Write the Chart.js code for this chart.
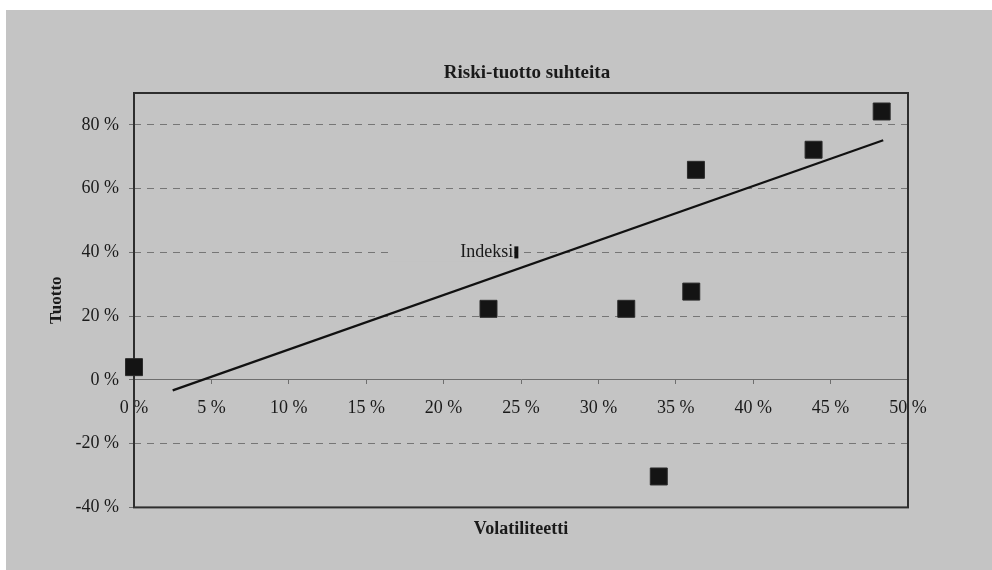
<!DOCTYPE html>
<html>
<head>
<meta charset="utf-8">
<script src="https://cdn.jsdelivr.net/npm/chart.js@4.4.1/dist/chart.umd.min.js"></script>
<style>
  html, body { margin: 0; padding: 0; background: #ffffff; }
  #wrap { position: absolute; left: 6px; top: 10px; width: 986px; height: 560px; background: #c4c4c4; }
  canvas { display: block; }
</style>
</head>
<body>
<div id="wrap"><canvas id="chart" width="986" height="560"></canvas></div>
<script>
// Volatility (%) and return (%) of each investment
const volatility = [0, 22.9, 31.8, 33.9, 36.0, 36.3, 43.9, 48.3];
const returns    = [4, 22.3, 22.3, -30.3, 27.7, 65.9, 72.2, 84.2];

// Index reference point and its label
const indexVolatility = [24.7];
const indexReturn     = [40];
const indexLabel      = 'Indeksi';

// Trend line end points
const trendVolatility = [2.5, 48.4];
const trendReturn     = [-3.3, 75.2];

// Axis ticks
const xTicks = [0, 5, 10, 15, 20, 25, 30, 35, 40, 45, 50];
const yTicks = [-40, -20, 0, 20, 40, 60, 80];

const BG = '#c4c4c4';
const INK = '#1a1a1a';
const SERIF = '"Liberation Serif", "Times New Roman", serif';

const toPoints = (xs, ys) => xs.map((x, i) => ({ x: x, y: ys[i] }));

// Frame around the plot area, drawn before the markers
const plotFrame = {
  id: 'plotFrame',
  beforeDatasetsDraw(chart) {
    const { ctx, chartArea: a } = chart;
    ctx.save();
    ctx.strokeStyle = '#2e2e2e';
    ctx.lineWidth = 2;
    ctx.strokeRect(a.left, a.top, a.right - a.left, a.bottom - a.top);
    ctx.restore();
  }
};

// Text label to the left of the index marker, on a background box
const indexText = {
  id: 'indexText',
  beforeDatasetsDraw(chart) {
    const meta = chart.getDatasetMeta(1);
    const p = meta.data[0];
    if (!p) return;
    const { ctx } = chart;
    ctx.save();
    ctx.fillStyle = BG;
    ctx.fillRect(p.x - 128, p.y - 9, 126, 18);
    ctx.fillStyle = INK;
    ctx.font = '18px ' + SERIF;
    ctx.textAlign = 'right';
    ctx.textBaseline = 'middle';
    ctx.fillText(indexLabel, p.x - 3, p.y);
    ctx.restore();
  }
};

// Chart heading, centred just right of the plot centre
const heading = {
  id: 'heading',
  afterDraw(chart) {
    const { ctx, chartArea: a } = chart;
    ctx.save();
    ctx.fillStyle = INK;
    ctx.font = 'bold 19px ' + SERIF;
    ctx.textAlign = 'center';
    ctx.textBaseline = 'middle';
    ctx.fillText('Riski-tuotto suhteita', (a.left + a.right) / 2 + 6, 63);
    ctx.restore();
  }
};

new Chart(document.getElementById('chart'), {
  type: 'scatter',
  data: {
    datasets: [
      {
        label: 'Sijoitukset',
        data: toPoints(volatility, returns),
        pointStyle: 'rect',
        radius: 12,
        backgroundColor: '#141414',
        borderColor: '#2a2a2a',
        borderWidth: 1,
        clip: false
      },
      {
        label: indexLabel,
        data: toPoints(indexVolatility, indexReturn),
        pointStyle: 'line',
        rotation: 90,
        radius: 6,
        borderColor: '#111111',
        borderWidth: 4,
        clip: false
      },
      {
        type: 'line',
        label: 'Trendi',
        data: toPoints(trendVolatility, trendReturn),
        borderColor: '#111111',
        borderWidth: 2.2,
        pointRadius: 0,
        fill: false,
        tension: 0
      }
    ]
  },
  options: {
    responsive: false,
    animation: false,
    devicePixelRatio: 1,
    layout: { padding: { left: 0, right: 84, top: 83, bottom: 30 } },
    plugins: {
      legend: { display: false },
      tooltip: { enabled: false },
      title: { display: false },
      subtitle: {
        display: true,
        position: 'bottom',
        fullSize: false,
        text: 'Volatiliteetti',
        color: INK,
        font: { family: SERIF, size: 18, weight: 'bold' },
        padding: { top: 11, bottom: 0 }
      }
    },
    scales: {
      x: {
        type: 'linear',
        position: { y: 0 },
        min: 0,
        max: 50,
        afterBuildTicks: s => { s.ticks = xTicks.map(v => ({ value: v })); },
        ticks: {
          callback: v => v + ' %',
          color: INK,
          font: { family: SERIF, size: 18 },
          padding: 14,
          maxRotation: 0,
          autoSkip: false
        },
        grid: { drawOnChartArea: false, tickLength: 4, color: '#6e6e6e', tickColor: '#6e6e6e' },
        border: { display: true, color: '#6e6e6e', width: 1 }
      },
      y: {
        type: 'linear',
        position: 'left',
        min: -40,
        max: 90,
        afterBuildTicks: s => { s.ticks = yTicks.map(v => ({ value: v })); },
        afterFit: s => { s.width = 128; },
        ticks: {
          callback: v => v + ' %',
          color: INK,
          font: { family: SERIF, size: 18 },
          padding: 10
        },
        grid: {
          color: c => (c.tick && (c.tick.value === 0 || c.tick.value === -40)) ? 'rgba(0,0,0,0)' : '#767676',
          tickColor: '#6e6e6e',
          tickLength: 5,
          lineWidth: 1
        },
        border: { display: false, dash: [7, 6] },
        title: {
          display: true,
          text: 'Tuotto',
          color: INK,
          font: { family: SERIF, size: 17, weight: 'bold' },
          padding: { top: 40, bottom: 0 }
        }
      }
    }
  },
  plugins: [plotFrame, indexText, heading]
});
</script>
</body>
</html>
